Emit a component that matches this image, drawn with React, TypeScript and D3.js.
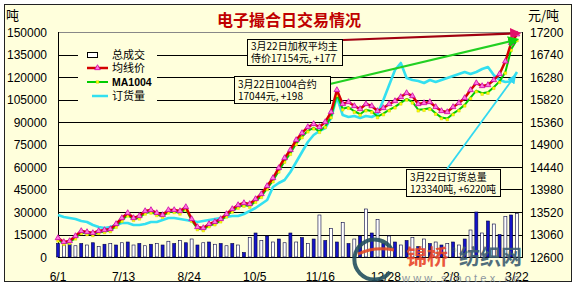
import React from 'react';
import * as d3 from 'd3';

const W = 577;
const H = 288;

const xLabels = ['6/1', '7/13', '8/24', '10/5', '11/16', '12/28', '2/8', '3/22'];
const leftTicks = [0, 15000, 30000, 45000, 60000, 75000, 90000, 105000, 120000, 135000, 150000];
const rightTicks = [12600, 13060, 13520, 13980, 14440, 14900, 15360, 15820, 16280, 16740, 17200];

// 均线价 (weighted average price, 元/吨)
const avgPrice = [
  12988, 12907, 12927, 13029, 13132, 13111, 13091, 13132, 13152, 13172,
  13275, 13397, 13500, 13397, 13438, 13540, 13561, 13500, 13459, 13561,
  13561, 13540, 13622, 13377, 13213, 13193, 13275, 13316, 13377, 13479,
  13581, 13663, 13704, 13684, 13786, 13888, 14052, 14215, 14420, 14624,
  14788, 14992, 15135, 15258, 15319, 15258, 15360, 15564, 16014, 15728,
  15769, 15687, 15626, 15728, 15687, 15585, 15646, 15728, 15789, 15871,
  15953, 15891, 15728, 15748, 15769, 15667, 15585, 15564, 15667, 15748,
  15851, 16014, 16157, 16096, 16116, 16219, 16341, 16600, 16977, 17154,
];

// MA1004 contract price (元/吨)
const ma1004 = [
  12950, 12880, 12900, 12990, 13100, 13080, 13060, 13100, 13120, 13140,
  13230, 13350, 13460, 13370, 13400, 13500, 13520, 13470, 13430, 13520,
  13530, 13500, 13580, 13350, 13180, 13160, 13240, 13280, 13340, 13440,
  13540, 13620, 13660, 13640, 13740, 13840, 14000, 14160, 14360, 14560,
  14720, 14920, 15060, 15180, 15240, 15170, 15270, 15470, 15920, 15630,
  15660, 15580, 15520, 15610, 15580, 15470, 15530, 15610, 15670, 15750,
  15830, 15770, 15610, 15620, 15640, 15540, 15450, 15430, 15530, 15610,
  15710, 15860, 16000, 15950, 15970, 16070, 16190, 16380, 16846, 17044,
];

// 订货量 (orders, 吨)
const orders = [
  28000, 26667, 26000, 25333, 24000, 23333, 21333, 20000, 19333, 20000,
  21333, 22667, 22667, 21333, 21333, 22000, 23333, 23333, 24667, 26000,
  26000, 25333, 24667, 24000, 23333, 24000, 24667, 25333, 26000, 26667,
  27333, 27333, 28667, 30667, 32667, 35333, 38000, 46667, 49333, 51333,
  56667, 63333, 70000, 76667, 81333, 84000, 86000, 92667, 106667, 94667,
  93333, 94000, 92667, 94000, 93333, 95333, 104667, 114667, 124667, 129333,
  119333, 118000, 117333, 116000, 118000, 116667, 118000, 119333, 120667, 122000,
  123333, 122000, 123333, 125333, 126667, 121333, 118000, 116667, 117120, 123340,
];

// 总成交 (total volume, 吨)
const volume = [
  9000, 8000, 8500, 7500, 9000, 8000, 9500, 7000, 8500, 9000,
  8000, 9500, 10000, 8000, 9000, 7500, 8500, 9000, 8000, 10500,
  9000, 11000, 9500, 12000, 8000, 9500, 10000, 8500, 9000, 7500,
  9000, 8000, 3000, 13000, 16000, 11000, 14000, 10000, 12000, 9500,
  16000, 10000, 13000, 9000, 12000, 28000, 11000, 19000, 10000, 23000,
  9000, 12000, 14000, 32000, 16000, 25000, 9000, 14000, 10000, 8000,
  11000, 13000, 7000, 12000, 9000, 10000, 8000, 9000, 10000, 8000,
  12000, 18000, 30000, 16000, 24000, 22000, 15000, 27000, 28000, 29000,
];

const BG = '#FFFFDC';
const PL = 58;
const PR = 522;
const PT = 32;
const PB = 257;

export default function App() {
  const N = avgPrice.length;
  const x = d3.scaleLinear().domain([0, N - 1]).range([PL, 517]);
  const yL = d3.scaleLinear().domain([0, 150000]).range([PB, PT]);
  const yR = d3.scaleLinear().domain([12600, 17200]).range([PB, PT]);

  const idx = d3.range(N);
  const lineR = d3.line<number>().x((i) => x(i)).y((i) => yR(avgPrice[i]));
  const lineM = d3.line<number>().x((i) => x(i)).y((i) => yR(ma1004[i]));
  const lineO = d3.line<number>().x((i) => x(i)).y((i) => yL(orders[i]));
  const tri = d3.symbol(d3.symbolTriangle, 14)() as string;
  const sq = d3.symbol(d3.symbolSquare, 7)() as string;

  const endX = x(N - 1);
  const endR = yR(avgPrice[N - 1]);
  const endM = yR(ma1004[N - 1]);
  const endO = yL(orders[N - 1]);

  const cjk = '"Noto Sans CJK SC", sans-serif';
  const num = '"Liberation Sans", Arial, sans-serif';

  return (
    <svg width={W} height={H} style={{ position: 'absolute', left: 0, top: 0 }} fontFamily={num}>
      <defs>
        <marker id="ahR" viewBox="0 0 10 10" refX="8" refY="5" markerWidth="5" markerHeight="5" orient="auto">
          <path d="M0,0 L10,5 L0,10 z" fill="#E0106A" />
        </marker>
        <marker id="ahG" viewBox="0 0 10 10" refX="8" refY="5" markerWidth="5" markerHeight="5" orient="auto">
          <path d="M0,0 L10,5 L0,10 z" fill="#10D010" />
        </marker>
        <marker id="ahC" viewBox="0 0 10 10" refX="8" refY="5" markerWidth="5" markerHeight="5" orient="auto">
          <path d="M0,0 L10,5 L0,10 z" fill="#30D8F0" />
        </marker>
      </defs>
      <rect x={0} y={0} width={W} height={H} fill="#ffffff" />
      <rect x={4.5} y={4.5} width={567} height={277} fill={BG} stroke="#222" strokeWidth={1} />

      {/* title */}
      <text x={289} y={26} textAnchor="middle" fontFamily={cjk} fontWeight="bold" fontSize={16} fill="#C00000">
        电子撮合日交易情况
      </text>
      <text x={6} y={20} fontFamily={cjk} fontSize={13} fill="#000">吨</text>
      <text x={528} y={20} fontFamily={cjk} fontSize={13} fill="#000">元/吨</text>

      {/* grid */}
      {leftTicks.map((t) => (
        <line key={'g' + t} x1={PL} x2={PR} y1={Math.round(yL(t)) + 0.5} y2={Math.round(yL(t)) + 0.5}
          stroke={t === 150000 ? '#888' : '#000'} strokeWidth={1} />
      ))}
      <line x1={PL + 0.5} x2={PL + 0.5} y1={PT} y2={PB + 1} stroke="#000" />
      <line x1={PR + 0.5} x2={PR + 0.5} y1={PT} y2={PB + 1} stroke="#000" />

      {/* tick labels */}
      {leftTicks.map((t) => (
        <text key={'l' + t} x={47} y={yL(t) + 4.5} textAnchor="end" fontSize={12} fill="#000">{t}</text>
      ))}
      {rightTicks.map((t) => (
        <text key={'r' + t} x={530} y={yR(t) + 4.5} textAnchor="start" fontSize={12} fill="#000">{t}</text>
      ))}
      {xLabels.map((l, k) => (
        <text key={'x' + l} x={x((k * (N - 1)) / (xLabels.length - 1))} y={281} textAnchor="middle" fontSize={12} fill="#000">{l}</text>
      ))}

      {/* volume bars */}
      {idx.map((i) => (
        <rect key={'b' + i} x={x(i) - 1.5} y={yL(volume[i])} width={3} height={PB - yL(volume[i])}
          fill={i % 2 === 1 ? '#ffffff' : '#1414C8'} stroke="#000040" strokeWidth={0.6} />
      ))}

      {/* orders */}
      <path d={lineO(idx) as string} fill="none" stroke="#33E0F0" strokeWidth={2.6} strokeLinejoin="round" />

      {/* MA1004 */}
      <path d={lineM(idx) as string} fill="none" stroke="#00CC00" strokeWidth={2} strokeLinejoin="round" />
      {idx.map((i) => (
        <path key={'m' + i} d={sq} transform={`translate(${x(i)},${yR(ma1004[i]) + 1})`} fill="#FFFF00" stroke="#C8C800" strokeWidth={0.4} />
      ))}

      {/* average price */}
      <path d={lineR(idx) as string} fill="none" stroke="#D40000" strokeWidth={2.5} strokeLinejoin="round" />
      {idx.map((i) => (
        <path key={'t' + i} d={tri} transform={`translate(${x(i)},${yR(avgPrice[i])})`} fill="#FF77DD" stroke="#CC00AA" strokeWidth={0.8} />
      ))}

      {/* annotation arrows */}
      <line x1={343} y1={40} x2={endX + 2} y2={endR - 1} stroke="#A00010" strokeWidth={2.2} markerEnd="url(#ahR)" />
      <line x1={330} y1={84} x2={endX} y2={endM} stroke="#22D022" strokeWidth={2.2} markerEnd="url(#ahG)" />
      <line x1={447} y1={169} x2={endX - 2} y2={endO + 4} stroke="#33D8F0" strokeWidth={1.8} markerEnd="url(#ahC)" />

      {/* annotation boxes */}
      <rect x={247.5} y={39.5} width={95} height={26} fill={BG} stroke="#000" />
      <text x={251} y={50} fontFamily={cjk} fontSize={10} fill="#000">3月22日加权平均主</text>
      <text x={251} y={62} fontFamily={cjk} fontSize={10} fill="#000">侍价17154元, +177</text>

      <rect x={234.5} y={76.5} width={96} height={27} fill={BG} stroke="#000" />
      <text x={238} y={88} fontFamily={cjk} fontSize={10} fill="#000">3月22日1004合约</text>
      <text x={238} y={100} fontFamily={cjk} fontSize={10} fill="#000">17044元, +198</text>

      <rect x={406.5} y={169.5} width={94} height={27} fill={BG} stroke="#000" />
      <text x={410} y={181} fontFamily={cjk} fontSize={10} fill="#000">3月22日订货总量</text>
      <text x={410} y={193} fontFamily={cjk} fontSize={10} fill="#000">123340吨, +6220吨</text>

      {/* legend */}
      <rect x={78} y={47} width={79} height={55} fill={BG} />
      <rect x={87.5} y={52.5} width={10} height={5} fill="#fff" stroke="#000" />
      <text x={112} y={59} fontFamily={cjk} fontSize={11} fill="#000">总成交</text>
      <line x1={87} x2={108} y1={68} y2={68} stroke="#D40000" strokeWidth={2.5} />
      <path d={tri} transform="translate(97.5,68)" fill="#FF77DD" stroke="#CC00AA" strokeWidth={0.8} />
      <text x={112} y={72} fontFamily={cjk} fontSize={11} fill="#000">均线价</text>
      <line x1={87} x2={108} y1={82} y2={82} stroke="#00CC00" strokeWidth={2} />
      <path d={sq} transform="translate(97.5,82)" fill="#FFFF00" stroke="#C8C800" strokeWidth={0.4} />
      <text x={112} y={86} fontFamily={num} fontWeight="bold" fontSize={10.5} fill="#000">MA1004</text>
      <line x1={92} x2={108} y1={96} y2={96} stroke="#33E0F0" strokeWidth={2.5} />
      <text x={112} y={100} fontFamily={cjk} fontSize={11} fill="#000">订货量</text>

      {/* watermark */}
      <g opacity={0.9}>
        <path d="M 392 250 A 20 20 0 1 0 390 272" fill="none" stroke="#24505F" strokeWidth={4} />
        <path d="M 358 254 Q 375 246 394 250" fill="none" stroke="#E24A28" strokeWidth={3} />
        <text x={406} y={264} fontFamily={cjk} fontWeight="bold" fontSize={21} fill="#E8452A">锦桥</text>
        <text x={451} y={253} fontSize={7} fill="#3E5E72">®</text>
        <text x={459} y={264} fontFamily={cjk} fontWeight="bold" fontSize={21} fill="#3E5E72">纺织网</text>
        <text x={402} y={282} fontSize={11} letterSpacing={3.2} fill="#7F8C99">www.sinotex.cn</text>
      </g>
    </svg>
  );
}
